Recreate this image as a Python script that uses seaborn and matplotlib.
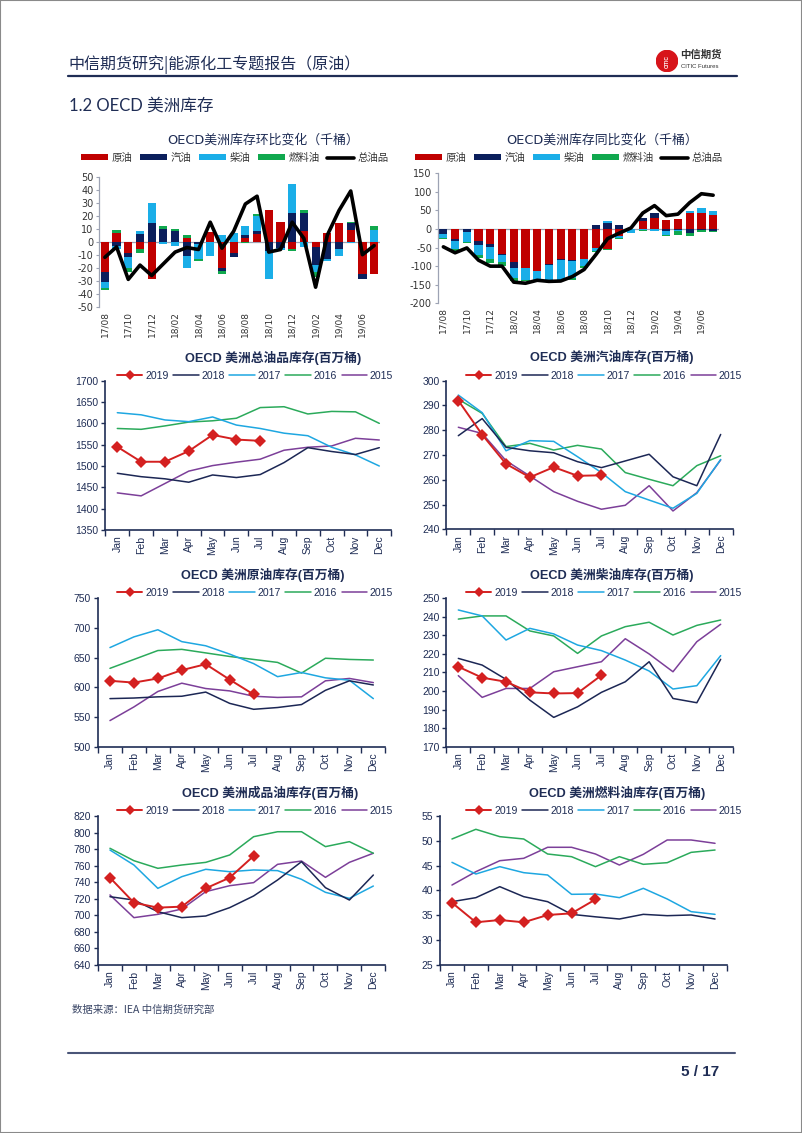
import numpy as np
import pandas as pd
import matplotlib
matplotlib.use("Agg")
import matplotlib.pyplot as plt
import seaborn as sns
from matplotlib.patches import Rectangle, Circle, Patch
from matplotlib.lines import Line2D

sns.set_style("white")
plt.rcParams['font.family'] = ['Liberation Sans', 'Noto Sans CJK SC']
plt.rcParams['axes.unicode_minus'] = False

# ---------------- data ----------------
bar_months = ['17/08', '17/09', '17/10', '17/11', '17/12', '18/01', '18/02', '18/03',
              '18/04', '18/05', '18/06', '18/07', '18/08', '18/09', '18/10', '18/11',
              '18/12', '19/01', '19/02', '19/03', '19/04', '19/05', '19/06', '19/07']
components = ['原油', '汽油', '柴油', '燃料油']
total_name = '总油品'

# month-on-month change (thousand barrels)
crude_mom = [-23, 7, -8.5, -6, -29, 0, 0, 3, 0, 7.5, -20, -9, 3, 6, 24, 15, -6, 8, -4, 7, 14, 9, -25, -25]
gas_mom = [-8, -3, -3.5, 6, 14, 9.5, 8, -11, -2, 0, -2.5, -3, 2, 2, -7, -5, 22, 14, -14, -13, -6, 5, -4, 0]
diesel_mom = [-5, -3, -8.5, 2, 16, -2, -3, -9, -11, -11, 5, 7, 7, 12, -22, -1.5, 22, -4, -5, -1.5, -5, -1, 0, 9]
fuel_mom = [-1, 2, -2.5, -2.5, 0, 2.5, 1.5, 2, -1.5, 0, -2.5, 0, -1, 1, 0, 0, -1, 2.5, -4, 0, 0, 1, 0, 3]
total_mom = [-12, -4, -29, -18, -26, -17, -8, -4.5, -6, 15, -5, 8, 29, 35, -8, -6, 15, 2.5, -35, 5, 24, 39, -10, -3]

# year-on-year change (thousand barrels)
crude_yoy = [0, -27, 0, -33, -39, -66, -89, -104, -113, -95, -82, -84, -80, -51, -53, -20, 0, 21, 29, 25, 28, 43, 43, 39]
gas_yoy = [-13, -4, -8, -9, -9, -5, -15, -2, 0, -2, -2, -2, 0, 12, 16, 12, 0, 10, 14, -6, -3, -11, -3, -5]
diesel_yoy = [-11, -22, -28, -27, -32, -18, -27, -32, -23, -41, -54, -47, -20, -9, 6, -5, -11, -3, -5, -9, -2, 5, 14, 9]
fuel_yoy = [-3, -5, -3, -9, -11, -10, -9, -3, -2, -2, -2, -3, -5, -3, -4, -3, 0, -1, -1, -4, -10, -7, -4, -2]
total_yoy = [-48, -64, -51, -84, -100, -100, -143, -146, -138, -141, -140, -128, -109, -69, -26, -11, 3, 43, 63, 36, 40, 71, 95, 91]

months = ['Jan', 'Feb', 'Mar', 'Apr', 'May', 'Jun', 'Jul', 'Aug', 'Sep', 'Oct', 'Nov', 'Dec']
years = ['2019', '2018', '2017', '2016', '2015']

total_stock = {
    '2019': [1545, 1510, 1510, 1535, 1573, 1562, 1559],
    '2018': [1483, 1475, 1470, 1462, 1479, 1473, 1480, 1508, 1543, 1534, 1527, 1543],
    '2017': [1625, 1620, 1608, 1604, 1615, 1596, 1588, 1577, 1571, 1544, 1526, 1500],
    '2016': [1588, 1586, 1594, 1603, 1606, 1612, 1637, 1639, 1622, 1628, 1627, 1600],
    '2015': [1437, 1430, 1459, 1488, 1501, 1509, 1516, 1537, 1544, 1547, 1565, 1561],
}
gasoline_stock = {
    '2019': [292.0, 278.2, 266.4, 261.0, 265.1, 261.6, 261.8],
    '2018': [277.8, 284.7, 273.1, 271.7, 270.9, 267.3, 264.9, 267.6, 270.3, 261.2, 257.6, 278.3],
    '2017': [294.2, 287.1, 271.7, 275.8, 275.5, 269.3, 262.9, 255.2, 251.8, 248.5, 254.5, 268.2],
    '2016': [292.5, 286.8, 273.4, 274.7, 272.0, 273.9, 272.4, 262.9, 260.2, 257.6, 265.7, 269.7],
    '2015': [281.2, 278.7, 267.7, 261.5, 255.2, 251.3, 248.1, 249.7, 257.6, 247.4, 254.8, 268.0],
}
crude_stock = {
    '2019': [611, 608, 615, 629, 639, 613, 588],
    '2018': [581, 582, 584, 585, 592, 573, 563, 566, 571, 595, 611, 604],
    '2017': [667, 685, 697, 677, 670, 656, 640, 618, 625, 616, 612, 581],
    '2016': [632, 647, 662, 664, 658, 652, 647, 642, 624, 649, 647, 646],
    '2015': [544, 567, 593, 607, 598, 594, 585, 583, 584, 611, 615, 608],
}
diesel_stock = {
    '2019': [213.1, 207.2, 205.0, 199.3, 198.7, 198.9, 208.5],
    '2018': [217.6, 214.0, 206.3, 195.1, 185.8, 191.5, 199.3, 205.0, 215.8, 196.0, 193.7, 217.1],
    '2017': [243.7, 240.5, 227.5, 233.8, 230.8, 224.8, 221.8, 216.7, 210.8, 201.1, 202.9, 219.1],
    '2016': [238.8, 240.5, 240.5, 232.4, 229.7, 220.3, 229.7, 234.7, 237.1, 230.2, 235.4, 238.3],
    '2015': [208.3, 196.6, 201.4, 201.4, 210.4, 213.1, 215.8, 228.2, 220.0, 210.4, 226.6, 236.0],
}
products_stock = {
    '2019': [745.5, 715.3, 709.3, 710.5, 732.6, 745.5, 771.7],
    '2018': [722.5, 718.5, 704.4, 697.2, 699.2, 709.3, 723.4, 742.7, 764.8, 733.4, 718.5, 748.7],
    '2017': [778.9, 760.8, 732.6, 746.7, 755.6, 752.7, 754.8, 754.0, 743.5, 727.8, 720.5, 735.4],
    '2016': [781.0, 766.0, 756.8, 760.8, 764.0, 772.9, 795.0, 801.0, 801.0, 783.0, 789.0, 775.0],
    '2015': [724.6, 697.2, 701.2, 707.6, 728.6, 735.8, 739.5, 761.6, 765.6, 745.9, 764.0, 775.0],
}
fueloil_stock = {
    '2019': [37.55, 33.6, 34.06, 33.6, 35.07, 35.4, 38.2],
    '2018': [37.75, 38.56, 40.77, 38.76, 37.75, 35.2, 34.7, 34.26, 35.2, 34.93, 35.07, 34.26],
    '2017': [45.67, 43.32, 44.8, 43.59, 43.12, 39.23, 39.3, 38.56, 40.44, 38.29, 35.74, 35.2],
    '2016': [50.37, 52.32, 50.84, 50.37, 47.35, 46.81, 44.8, 46.81, 45.27, 45.6, 47.68, 48.15],
    '2015': [41.1, 43.79, 46.0, 46.48, 48.7, 48.7, 47.35, 45.13, 47.28, 50.17, 50.17, 49.5],
}

# ---------------- styling ----------------
W, H = 802, 1133
NAVY_TXT = '#1F2D55'
comp_colors = ['#C00000', '#0B1F5C', '#1AAEE8', '#10A84E']
year_colors = {'2019': '#D42020', '2018': '#1C2755', '2017': '#1EA7E1', '2016': '#2BAA5B', '2015': '#7C3F99'}

fig = plt.figure(figsize=(W / 100, H / 100), dpi=100)


def add_ax(l, t, r, b):
    return fig.add_axes([l / W, 1 - b / H, (r - l) / W, (b - t) / H])


def fx(x):
    return x / W


def fy(y):
    return 1 - y / H


# ---------------- page decorations ----------------
fig.add_artist(Rectangle((0, 0), 1, 1, transform=fig.transFigure, fill=False,
                         edgecolor='#8A8A8A', lw=1.5))
fig.text(fx(68), fy(65), '中信期货研究|能源化工专题报告（原油）', fontsize=11.5,
         color=NAVY_TXT, va='center', ha='left', family=['Noto Sans CJK SC'])
fig.add_artist(Line2D([fx(68), fx(737)], [fy(76), fy(76)], transform=fig.transFigure,
                      color='#1F2D55', lw=1.6))
logo = add_ax(656, 50, 678, 72)
logo.set_xlim(0, 1); logo.set_ylim(0, 1); logo.axis('off'); logo.set_aspect('equal')
logo.add_patch(Circle((0.5, 0.5), 0.48, color='#D7141A'))
logo.text(0.5, 0.5, 'CITIC', color='white', fontsize=3.5, ha='center', va='center',
          fontweight='bold', rotation=90)
fig.text(fx(680), fy(55), '中信期货', fontsize=7.5, color='#333333', va='center',
         ha='left', fontweight='bold', family=['Noto Sans CJK SC'])
fig.text(fx(681), fy(66), 'CITIC Futures', fontsize=4.3, color='#333333', va='center',
         ha='left')
fig.text(fx(69), fy(106), '1.2 OECD 美洲库存', fontsize=12, color=NAVY_TXT,
         va='center', ha='left', family=['Lato', 'Noto Sans CJK SC'])

fig.text(fx(72), fy(1010), '数据来源：IEA 中信期货研究部', fontsize=7.5, color='#3A4666',
         va='center', ha='left', family=['Noto Sans CJK SC'])
fig.add_artist(Line2D([fx(68), fx(735)], [fy(1053), fy(1053)], transform=fig.transFigure,
                      color='#4A5578', lw=1.5))
fig.text(fx(719), fy(1072), '5 / 17', fontsize=11, color=NAVY_TXT, va='center',
         ha='right', fontweight='bold')


# ---------------- stacked bar charts ----------------
def stacked_chart(box, comps, total, ylim, yticks, title, title_xy, legend_xy):
    ax = add_ax(*box)
    x = np.arange(len(bar_months))
    pos = np.zeros(len(x))
    neg = np.zeros(len(x))
    for name, vals, col in zip(components, comps, comp_colors):
        v = np.asarray(vals, dtype=float)
        bottom = np.where(v >= 0, pos, neg)
        ax.bar(x, v, 0.7, bottom=bottom, color=col, linewidth=0, zorder=2)
        pos += np.where(v > 0, v, 0)
        neg += np.where(v < 0, v, 0)
    df = pd.DataFrame({'x': x, 'total': total})
    sns.lineplot(data=df, x='x', y='total', color='black', lw=2.6, ax=ax, zorder=3)
    ax.axhline(0, color='#9DA3B4', lw=0.9, zorder=1)
    ax.set_xlim(-0.5, len(x) - 0.5)
    ax.set_ylim(*ylim)
    ax.set_yticks(yticks)
    ax.set_yticklabels([str(t) for t in yticks], fontsize=7, color='#333333',
                       family=['DejaVu Sans'])
    ax.set_xticks(x[::2])
    ax.set_xticklabels(bar_months[::2], rotation=90, fontsize=6.5, color='#333333',
                       family=['DejaVu Sans'])
    ax.tick_params(axis='x', length=0, pad=3)
    ax.tick_params(axis='y', length=2, pad=2, color='#9DA3B4', left=True)
    for s in ['top', 'right', 'bottom']:
        ax.spines[s].set_visible(False)
    ax.spines['left'].set_color('#9DA3B4')
    ax.spines['left'].set_linewidth(0.9)
    ax.set_xlabel('')
    ax.set_ylabel('')
    fig.text(fx(title_xy[0]), fy(title_xy[1]), title, fontsize=9.3, color=NAVY_TXT,
             ha='center', va='center', family=['DejaVu Sans', 'Noto Sans CJK SC'])
    handles = [Patch(facecolor=c, edgecolor='none') for c in comp_colors]
    handles.append(Line2D([0], [0], color='black', lw=2.6))
    fig.legend(handles, components + [total_name], loc='center', ncol=5,
               bbox_to_anchor=(fx(legend_xy[0]), fy(legend_xy[1])), frameon=False,
               handlelength=2.6, handleheight=0.55, handletextpad=0.35,
               columnspacing=0.7, borderpad=0, labelcolor='#333333',
               prop={'family': ['Noto Sans CJK SC'], 'size': 7.5})
    return ax


stacked_chart((99, 176.7, 380, 306.7), [crude_mom, gas_mom, diesel_mom, fuel_mom], total_mom,
              (-50, 50), list(range(-50, 51, 10)), 'OECD美洲库存环比变化（千桶）',
              (263, 140), (235, 158))
stacked_chart((437.5, 173.3, 719, 303.3), [crude_yoy, gas_yoy, diesel_yoy, fuel_yoy], total_yoy,
              (-200, 150), list(range(-200, 151, 50)), 'OECD美洲库存同比变化（千桶）',
              (602, 140), (569, 158))


# ---------------- seasonal line charts ----------------
def season_chart(box, data, ylim, yticks, title, title_xy, legend_xy):
    ax = add_ax(*box)
    rows = []
    for y in years:
        for i, v in enumerate(data[y]):
            rows.append({'month': i, 'year': y, 'value': v})
    df = pd.DataFrame(rows)
    for y in years[::-1]:
        sub = df[df['year'] == y]
        if y == '2019':
            sns.lineplot(data=sub, x='month', y='value', color=year_colors[y], lw=1.4,
                         marker='D', markersize=6, markeredgewidth=0, ax=ax, zorder=5)
        else:
            sns.lineplot(data=sub, x='month', y='value', color=year_colors[y], lw=1.1,
                         ax=ax, zorder=3)
    ax.set_xlim(-0.5, 11.5)
    ax.set_ylim(*ylim)
    ax.set_yticks(yticks)
    ax.set_yticklabels([str(t) for t in yticks], fontsize=7.5, color=NAVY_TXT)
    ax.set_xticks(range(12))
    ax.set_xticklabels(months, rotation=90, fontsize=7.5, color=NAVY_TXT)
    ax.set_xticks(np.arange(-0.5, 12, 1), minor=True)
    ax.tick_params(axis='x', which='major', length=0, pad=4)
    ax.tick_params(axis='x', which='minor', length=4, width=1.0, color='#1F2D55',
                   direction='out', bottom=True)
    ax.tick_params(axis='y', length=3, width=1.0, color='#1F2D55', direction='out',
                   left=True, pad=2)
    for s in ['top', 'right']:
        ax.spines[s].set_visible(False)
    for s in ['left', 'bottom']:
        ax.spines[s].set_color('#1F2D55')
        ax.spines[s].set_linewidth(1.2)
    ax.set_xlabel('')
    ax.set_ylabel('')
    leg = ax.get_legend()
    if leg is not None:
        leg.remove()
    fig.text(fx(title_xy[0]), fy(title_xy[1]), title, fontsize=9.2, color=NAVY_TXT,
             ha='center', va='center', fontweight='bold')
    handles = []
    for y in years:
        if y == '2019':
            handles.append(Line2D([0], [0], color=year_colors[y], lw=1.4, marker='D',
                                  markersize=5, markeredgewidth=0))
        else:
            handles.append(Line2D([0], [0], color=year_colors[y], lw=1.1))
    fig.legend(handles, years, loc='center', ncol=5,
               bbox_to_anchor=(fx(legend_xy[0]), fy(legend_xy[1])), frameon=False,
               fontsize=7.6, handlelength=2.4, handletextpad=0.25, columnspacing=0.45,
               borderpad=0, labelcolor=NAVY_TXT)
    return ax


season_chart((105.4, 380.7, 391.2, 530), total_stock, (1350, 1700),
             list(range(1350, 1701, 50)), 'OECD 美洲总油品库存(百万桶)', (273, 358), (255, 376))
season_chart((446.4, 380.7, 732.6, 529.3), gasoline_stock, (240, 300),
             list(range(240, 301, 10)), 'OECD 美洲汽油库存(百万桶)', (612, 357), (604, 376))
season_chart((98, 598.3, 385.3, 746.7), crude_stock, (500, 750),
             list(range(500, 751, 50)), 'OECD 美洲原油库存(百万桶)', (263, 575), (255, 593))
season_chart((446.4, 598.3, 732.6, 746.7), diesel_stock, (170, 250),
             list(range(170, 251, 10)), 'OECD 美洲柴油库存(百万桶)', (612, 575), (604, 593))
season_chart((98, 816, 385.3, 965), products_stock, (640, 820),
             list(range(640, 821, 20)), 'OECD 美洲成品油库存(百万桶)', (270, 793), (255, 811))
season_chart((440, 816, 727, 965), fueloil_stock, (25, 55),
             list(range(25, 56, 5)), 'OECD 美洲燃料油库存(百万桶)', (617, 793), (604, 811))

fig.savefig('out.png', dpi=100)
